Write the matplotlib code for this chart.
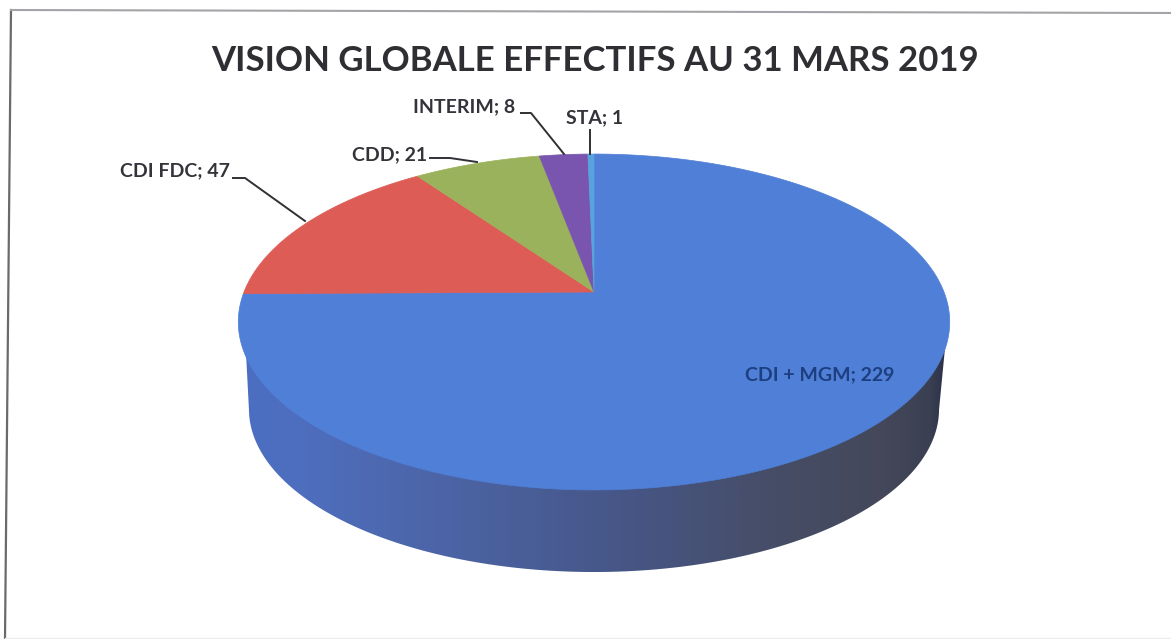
import numpy as np
import matplotlib.pyplot as plt
from matplotlib.patches import Polygon

categories = ['CDI + MGM', 'CDI FDC', 'CDD', 'INTERIM', 'STA']
values = [229, 47, 21, 8, 1]
colors = ['#4f7fd6', '#de5c56', '#9bb25c', '#7a55af', '#58a2de']
title = 'VISION GLOBALE EFFECTIFS AU 31 MARS 2019'

plt.rcParams['font.family'] = ['Lato', 'DejaVu Sans']

# top of the pie, perspective projection of a circle
cx, cy = 594, 292
scale_x, scale_y, persp = 350, 162.6, 0.1786


def project(angle, radius=1.0, shrink=1.0, dy=0):
    u = radius * np.sin(angle)
    v = radius * np.cos(angle)
    den = 1 + persp * v
    return cx + shrink * scale_x * u / den, cy + dy + shrink * scale_y * v * -1 / den


fig = plt.figure(figsize=(11.71, 6.39), dpi=100)
ax = fig.add_axes([0, 0, 1, 1])
ax.set_xlim(0, 1171)
ax.set_ylim(639, 0)
ax.axis('off')

# side wall with the dark gradient
t = np.linspace(0, 2 * np.pi, 721)
top_x, top_y = project(t)
low_x, low_y = project(t, shrink=0.97, dy=88)
front = low_y >= low_y[np.argmin(low_x)]
front |= low_y >= low_y[np.argmax(low_x)]
order = np.argsort(low_x[front])

# wall starts a bit below the widest point of the top, as in the scan
left_side = top_x < cx
right_side = ~left_side
lower = top_y > 322
left_i = np.where(left_side & lower)[0]
left_i = left_i[np.argmin(np.abs(top_y[left_i] - 358))]
right_i = np.where(right_side & lower)[0]
right_i = right_i[np.argmin(np.abs(top_y[right_i] - 350))]
outline = [(top_x[left_i], top_y[left_i])]
outline += list(zip(low_x[front][order], low_y[front][order]))
outline += [(top_x[right_i], top_y[right_i])]

grad_x = np.array([238, 300, 450, 620, 760, 880, 930, 950])
grad_r = np.array([76, 78, 76, 70, 70, 68, 58, 40])
grad_g = np.array([110, 110, 100, 86, 78, 72, 64, 45])
grad_b = np.array([195, 190, 165, 135, 105, 90, 82, 70])
xs = np.arange(238, 951)
grad = np.dstack([np.interp(xs, grad_x, c) / 255 for c in (grad_r, grad_g, grad_b)])
im = ax.imshow(grad, extent=(238, 950, 590, 300), aspect='auto', zorder=1)
ax.set_xlim(0, 1171)
ax.set_ylim(639, 0)
im.set_clip_path(Polygon(outline, transform=ax.transData))

# top surface wedges, clockwise from 12 o'clock
total = sum(values)
start = 0
for val, col in zip(values, colors):
    ang = np.linspace(start, start + val / total * 2 * np.pi, 240)
    x, y = project(ang)
    pts = [(cx, cy)] + list(zip(x, y))
    ax.add_patch(Polygon(pts, closed=True, facecolor=col, edgecolor=col, lw=0.5, zorder=2))
    start += val / total * 2 * np.pi

ax.text(595, 61, title, ha='center', va='center', fontsize=25, fontweight='bold', color='#2e2e33')

label_x = [820, 175, 390, 464, 595]
label_y = [375, 171, 155, 107, 118]
label_colors = ['#1d3f80', '#33333a', '#33333a', '#33333a', '#33333a']
for name, val, lx, ly, lc in zip(categories, values, label_x, label_y, label_colors):
    ax.text(lx, ly, f'{name}; {val}', ha='center', va='center', fontsize=14,
            fontweight='bold', color=lc, zorder=4)

# leader lines
leaders = [
    ([233, 245, 305], [178, 178, 221]),
    ([430, 450, 477], [158, 158, 162]),
    ([521, 531, 564], [113, 113, 154]),
    ([590, 590], [130, 154]),
]
for lx, ly in leaders:
    ax.plot(lx, ly, color='#303035', lw=1.4, zorder=3)

# scanned frame, slightly skewed
ax.plot([11, 5], [10, 639], color='#6a6a6e', lw=1.6)
ax.plot([11, 1171], [10, 13], color='#a4a4a8', lw=1.5)
ax.plot([5, 1171], [638, 638], color='#ececee', lw=1)

fig.savefig('out.png', dpi=100)
